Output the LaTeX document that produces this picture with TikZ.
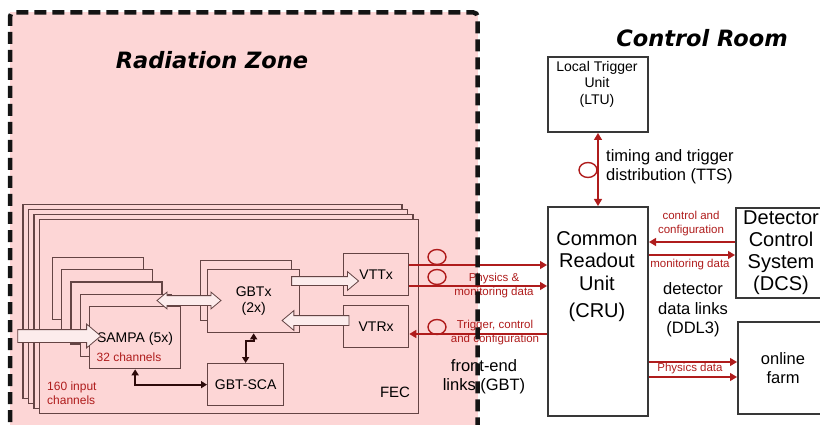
\documentclass[tikz,border=0pt]{standalone}
\usepackage{fontspec}
\setmainfont{Liberation Sans}
\newfontfamily\zonefont{DejaVu Sans}
\usetikzlibrary{arrows.meta, positioning, shapes.arrows, calc}
\definecolor{zonepink}{RGB}{253,214,214}
\definecolor{boxline}{RGB}{100,68,68}
\definecolor{linkred}{RGB}{175,28,28}
\definecolor{hollowfill}{RGB}{252,236,236}
\definecolor{ctlline}{RGB}{45,10,10}
\tikzset{
  fecbox/.style = {draw=boxline, line width=1.3pt, fill=zonepink, align=center, inner sep=0pt,
                   font=\fontsize{14}{16.5}\selectfont, anchor=north west},
  crbox/.style  = {draw=black!78, line width=2pt, fill=white, align=center, inner sep=0pt,
                   anchor=north west},
  fat/.style    = {single arrow, draw=boxline, fill=hollowfill, line width=0.8pt,
                   inner xsep=0pt, single arrow tip angle=80},
  dfat/.style   = {double arrow, draw=boxline, fill=hollowfill, line width=0.8pt,
                   inner xsep=0pt, double arrow tip angle=80},
  link/.style   = {draw=linkred, line width=1.4pt, -{Triangle[length=7pt, width=8pt]}},
  ctl/.style    = {draw=ctlline, line width=1.8pt,
                   {Triangle[length=6pt, width=7pt]}-{Triangle[length=6pt, width=7pt]}},
  fiber/.style  = {draw=linkred, line width=1.4pt},
  zone/.style   = {draw=black!92, line width=4.5pt, dash pattern=on 12pt off 6pt,
                   rounded corners=4pt},
  title/.style  = {font=\zonefont\bfseries\itshape\fontsize{22.5}{26}\selectfont, inner sep=0pt},
  tbig/.style   = {font=\fontsize{20}{22.5}\selectfont, align=center, inner sep=0pt},
  tmid/.style   = {font=\fontsize{16.5}{19.5}\selectfont, align=center, inner sep=0pt},
  tsml/.style   = {font=\fontsize{12}{14}\selectfont, text=linkred, align=left, inner sep=0pt},
  rlab/.style   = {font=\fontsize{11.5}{14}\selectfont, text=linkred, align=center, inner sep=0pt},
}

\begin{document}
\begin{tikzpicture}[x=1pt, y=-1pt]
\useasboundingbox (0,0) rectangle (820,425);
\clip (0,0) rectangle (820,425);

% radiation zone
\fill[zonepink] (10,12.5) rectangle (477.5,440);
\node[title] (rztitle) at (212,60) {Radiation Zone};
\node[title] (crtitle) at (702,38) {Control Room};

% front-end cards
\foreach \k in {3,2,1,0}
  \node[fecbox, minimum width=379, minimum height=194] (fec\k) at (39-5.6*\k, 219-5*\k) {};
\node[font=\fontsize{15}{17}\selectfont, inner sep=0pt] (fectxt) at (395,392) {FEC};

\foreach \k in {4,3,2,1,0}
  \node[fecbox, minimum width=91, minimum height=62] (sampa\k) at (89-9.3*\k, 306-12.3*\k) {};
\node[font=\fontsize{14}{16.5}\selectfont, inner sep=0pt] (sampatxt) at (135,339) {SAMPA (5x)};
\node[tsml] (chan32) at (129,357) {32 channels};
\node[tsml, anchor=west] (chan160) at (47,393) {160 input\\channels};

\node[fecbox, minimum width=91, minimum height=60] (gbtx1) at (200,260) {};
\node[fecbox, minimum width=92, minimum height=63] (gbtx0) at (207,269) {GBTx\\(2x)};
\node[fecbox, minimum width=65, minimum height=42] (vttx) at (343,253) {VTTx};
\node[fecbox, minimum width=65, minimum height=42] (vtrx) at (343,305) {VTRx};
\node[fecbox, minimum width=76, minimum height=42] (sca) at (207,363) {GBT-SCA};

\node[fat, minimum height=83, inner ysep=6pt, single arrow head extend=5.5pt] (inarr) at (55.5,336) {};
\node[dfat, minimum height=64, inner ysep=4.5pt, double arrow head extend=3.5pt] (sgarr) at (189,300.5) {};
\node[fat, minimum height=67, inner ysep=4pt, single arrow head extend=5pt] (txarr) at (322.5,281) {};
\node[fat, minimum height=67, inner ysep=4.5pt, single arrow head extend=5pt,
      shape border rotate=180] (rxarr) at (318.5,320.5) {};

\draw[ctl] (sampa0.south) -- (sampa0.south |- sca.west) -- (sca.west);
\draw[ctl] (gbtx0.south) -- ++(0,8) -| (sca.north);

% control room
\node[crbox, minimum width=100, minimum height=75] (ltu) at (547,56) {};
\node[font=\fontsize{14}{16.5}\selectfont, align=center, inner sep=0pt, anchor=north]
  (ltutxt) at (597,61) {Local Trigger\\Unit\\(LTU)};
\node[crbox, minimum width=100, minimum height=209] (cru) at (547,206) {};
\node[tbig, anchor=north] (crutxt) at (597,231) {Common\\Readout\\Unit\\[5pt](CRU)};
\node[crbox, minimum width=90, minimum height=90, font=\fontsize{20}{22}\selectfont] (dcs) at (735,207)
  {Detector\\Control\\System\\(DCS)};
\node[crbox, minimum width=90, minimum height=92, font=\fontsize{16.5}{19.5}\selectfont] (farm) at (737,321)
  {online\\farm};

% links
\draw[link, {Triangle[length=7pt, width=8pt]}-{Triangle[length=7pt, width=8pt]}] (ltu.south) -- (cru.north);
\draw[fiber] (588,170) ellipse [x radius=9, y radius=7.5];
\node[tmid, align=left, anchor=west] (ttstxt) at (606,166.5) {timing and trigger\\distribution (TTS)};

\draw[link] ([yshift=-12pt]vttx.north east) coordinate (fl1) -- (fl1 -| cru.west);
\draw[link] ([yshift=-33pt]vttx.north east) coordinate (fl2) -- (fl2 -| cru.west);
\coordinate (fl3) at ([yshift=-29pt]vtrx.north east);
\draw[link] (fl3 -| cru.west) -- (fl3);
\draw[fiber] (437,257) ellipse [x radius=9, y radius=7.5];
\draw[fiber] (437,277) ellipse [x radius=9, y radius=7.5];
\draw[fiber] (437,327) ellipse [x radius=9, y radius=7.5];
\node[rlab] (physlab) at (494,285.5) {Physics \&\\monitoring data};
\node[rlab] (trglab) at (495,333) {Trigger, control\\and configuration};
\node[tmid] (fetxt) at (484,376.5) {front-end\\links (GBT)};

\coordinate (dl1) at ([yshift=-35pt]dcs.north west);
\draw[link] (dl1) -- (dl1 -| cru.east);
\coordinate (dl2) at ([yshift=-48pt]dcs.north west);
\draw[link] (dl2 -| cru.east) -- (dl2);
\node[rlab] (cfglab) at (691,224) {control and\\configuration};
\node[rlab] (monlab) at (690,265) {monitoring data};
\node[tmid] (ddltxt) at (693,310) {detector\\data links\\(DDL3)};

\coordinate (pl1) at ([yshift=-41pt]farm.north west);
\coordinate (pl2) at ([yshift=-56pt]farm.north west);
\draw[link] (pl1 -| cru.east) -- (pl1);
\draw[link] (pl2 -| cru.east) -- (pl2);
\node[rlab] (physdata) at (690,369) {Physics data};

% zone border on top
\draw[zone] (10,440) -- (10,12.5) -- (477.5,12.5) -- (477.5,440);
\end{tikzpicture}
\end{document}
